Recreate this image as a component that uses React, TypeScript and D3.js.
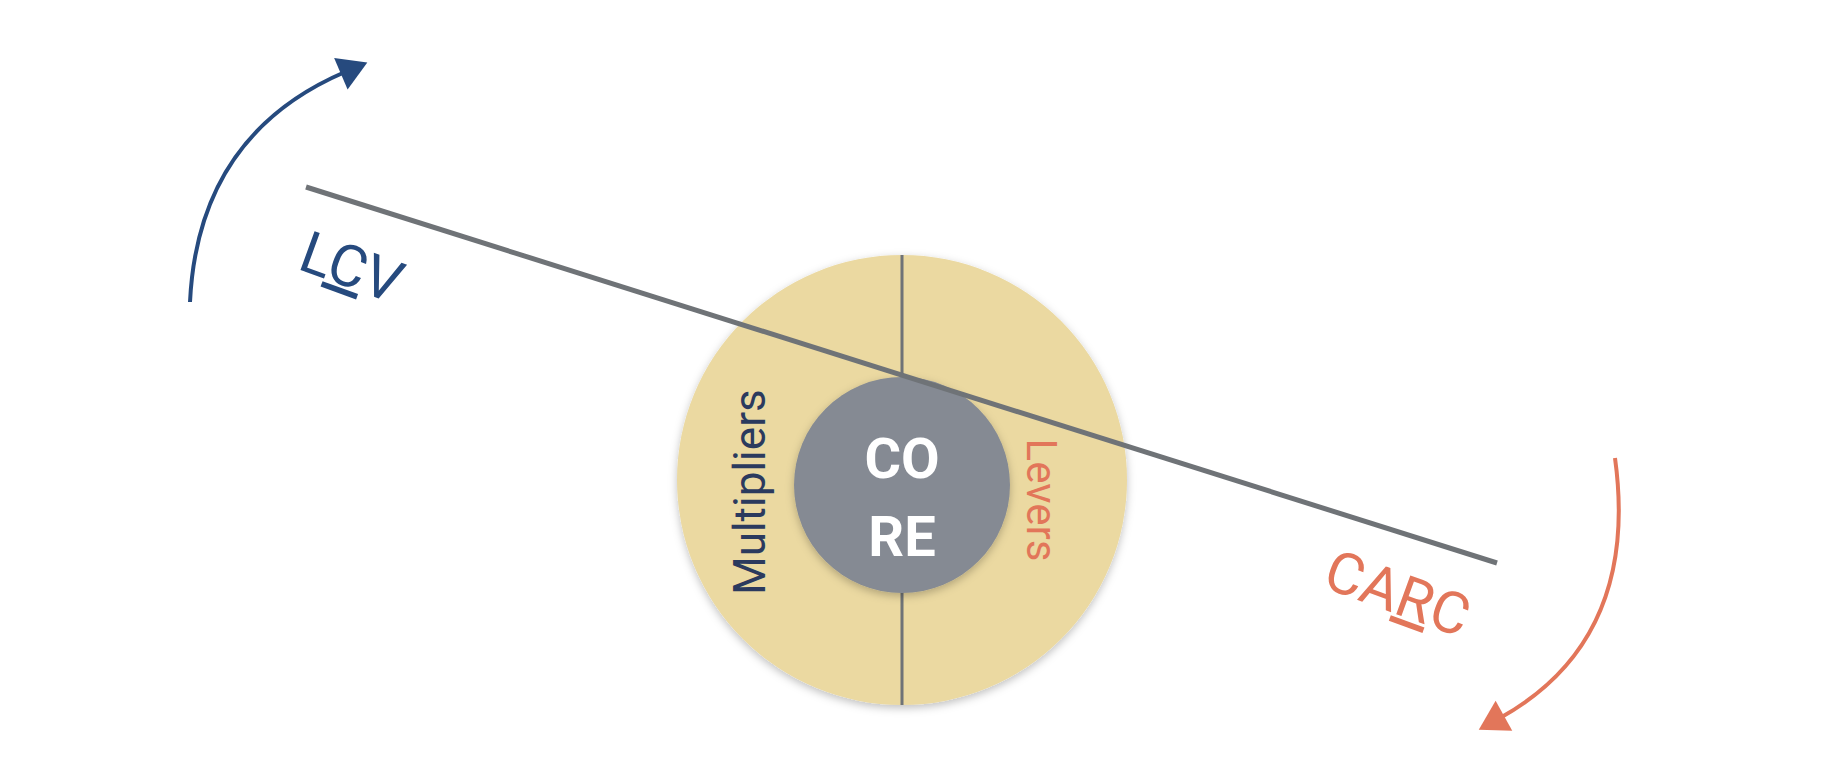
import React from 'react';
import * as d3 from 'd3';

const W = 1822, H = 770;
const ringLabels = ['Multipliers', 'Levers'];
const coreLabels = ['CO', 'RE'];
const sideLabels = ['LCV', 'CARC'];
const underlined = [1, 2];

const BLUE = '#264a7e', ORANGE = '#e2765a', GREY = '#6f7377';

const App: React.FC = () => {
  const cx = 902, cy = 480, R = 225, r = 108;
  const blue = d3.path();
  blue.moveTo(190, 302);
  blue.quadraticCurveTo(198, 135, 345, 72);
  const orange = d3.path();
  orange.moveTo(1615, 458);
  orange.quadraticCurveTo(1640, 640, 1500, 718);

  const label = (t: string, idx: number) =>
    t.split('').map((ch, i) => (
      <tspan key={i} textDecoration={i === idx ? 'underline' : undefined}>{ch}</tspan>
    ));

  return (
    <svg width={W} height={H} style={{ display: 'block', margin: '-8px' }}>
      <defs>
        <marker id="ab" viewBox="0 0 10 10" refX="3" refY="5" markerWidth="9" markerHeight="9" markerUnits="userSpaceOnUse" orient="auto" style={{ overflow: 'visible' }}>
          <path d="M-2,-14 L30,5 L-2,24 z" fill={BLUE} />
        </marker>
        <marker id="ao" viewBox="0 0 10 10" refX="3" refY="5" markerWidth="9" markerHeight="9" markerUnits="userSpaceOnUse" orient="auto" style={{ overflow: 'visible' }}>
          <path d="M-2,-14 L30,5 L-2,24 z" fill={ORANGE} />
        </marker>
        <filter id="sh" x="-20%" y="-20%" width="140%" height="140%">
          <feDropShadow dx="0" dy="3" stdDeviation="4" floodColor="#000" floodOpacity="0.25" />
        </filter>
      </defs>
      <rect width={W} height={H} fill="#fff" />
      <circle cx={cx} cy={cy} r={R} fill="#ebd9a1" filter="url(#sh)" />
      <line x1={cx} y1={cy - R} x2={cx} y2={cy + R} stroke={GREY} strokeWidth={3} />
      <circle cx={cx} cy={cy + 5} r={r} fill="#858a93" filter="url(#sh)" />
      <line x1={306} y1={187} x2={1497} y2={563} stroke={GREY} strokeWidth={5} />
      {coreLabels.map((t, i) => (
        <text key={t} x={cx} y={cy - 17 + i * 78} textAnchor="middle" dominantBaseline="middle"
          fontFamily="Roboto" fontWeight="bold" fontSize={56} fill="#fff">{t}</text>
      ))}
      <text transform={`translate(753,492) rotate(-90)`} textAnchor="middle" dominantBaseline="middle"
        fontFamily="Roboto" fontSize={44} fill="#2b3a5e">{ringLabels[0]}</text>
      <text transform={`translate(1038,500) rotate(90)`} textAnchor="middle" dominantBaseline="middle"
        fontFamily="Roboto" fontSize={42} fill={ORANGE}>{ringLabels[1]}</text>
      <text transform="translate(350,272) rotate(20)" textAnchor="middle" dominantBaseline="middle"
        fontFamily="Roboto" fontSize={58} fill={BLUE}>{label(sideLabels[0], underlined[0])}</text>
      <text transform="translate(1396,598) rotate(20)" textAnchor="middle" dominantBaseline="middle"
        fontFamily="Roboto" fontSize={58} fill={ORANGE}>{label(sideLabels[1], underlined[1])}</text>
      <path d={blue.toString()} fill="none" stroke={BLUE} strokeWidth={4} markerEnd="url(#ab)" />
      <path d={orange.toString()} fill="none" stroke={ORANGE} strokeWidth={4} markerEnd="url(#ao)" />
    </svg>
  );
};

export default App;
